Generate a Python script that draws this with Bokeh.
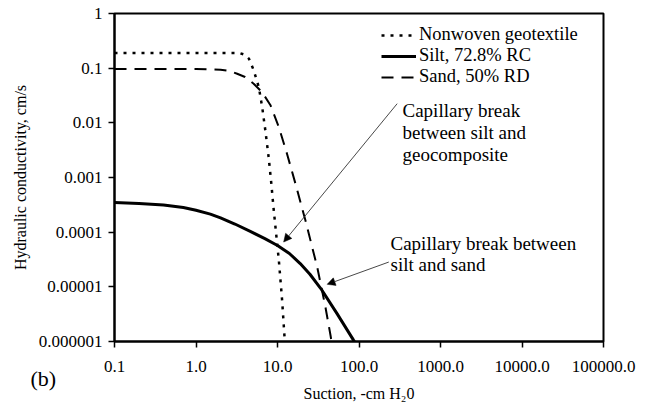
from bokeh.plotting import figure
from bokeh.models import FixedTicker, Legend, LegendItem, Arrow, NormalHead, Label
from bokeh.embed import file_html
from bokeh.resources import INLINE

# ---------------- data ----------------
geo_suction = [0.1, 1.0, 3.0, 3.5, 4.0, 4.45, 5.1, 5.9, 6.5, 7.1, 7.8, 8.4, 9.0, 10.4, 11.4, 12.2, 12.4]
geo_k = [0.19, 0.19, 0.19, 0.187, 0.175, 0.15, 0.092, 0.045, 0.019, 0.0072, 0.0023, 0.00077,
         0.00025, 0.00003, 0.0000056, 0.0000012, 0.000001]

silt_suction = [0.1, 0.2, 0.4, 0.7, 1.0, 1.5, 2.0, 3.0, 4.7, 7.0, 10.0, 14.0, 19.0, 25.0,
                34.0, 54.0, 86.0, 88.0]
silt_k = [0.00035, 0.000335, 0.000313, 0.000282, 0.000251, 0.000214, 0.000182, 0.000141,
          0.000102, 0.000076, 0.000057, 0.0000407, 0.0000266, 0.000017, 0.0000093,
          0.0000032, 0.00000105, 0.000001]

sand_suction = [0.1, 1.0, 2.0, 2.5, 3.2, 4.0, 5.1, 6.5, 8.2, 10.4, 13.1, 16.6, 22.0, 30.7,
                38.7, 44.7, 46.0]
sand_k = [0.097, 0.097, 0.094, 0.09, 0.079, 0.069, 0.052, 0.036, 0.021, 0.0083, 0.0027,
          0.00077, 0.000165, 0.000023, 0.0000043, 0.0000013, 0.000001]

series_labels = ["Nonwoven geotextile", "Silt, 72.8% RC", "Sand, 50% RD"]

x_ticks = [0.1, 1.0, 10.0, 100.0, 1000.0, 10000.0, 100000.0]
x_tick_labels = ["0.1", "1.0", "10.0", "100.0", "1000.0", "10000.0", "100000.0"]
y_ticks = [1.0, 0.1, 0.01, 0.001, 0.0001, 0.00001, 0.000001]
y_tick_labels = ["1", "0.1", "0.01", "0.001", "0.0001", "0.00001", "0.000001"]

# annotation anchor points (data coords): arrow start -> arrow tip
arrow1 = (294.0, 0.0224, 11.9, 0.000066)
arrow2 = (232.0, 0.0000284, 40.7, 0.0000111)

FONT = "Liberation Serif"

p = figure(width=648, height=408, x_axis_type="log", y_axis_type="log",
           x_range=(0.1, 100000.0), y_range=(0.000001, 1.0),
           output_backend="svg", toolbar_location=None,
           min_border_left=114, min_border_right=45, min_border_top=13, min_border_bottom=67)

p.background_fill_color = "white"
p.border_fill_color = "white"
p.xgrid.visible = False
p.ygrid.visible = False
p.outline_line_color = "black"
p.outline_line_width = 2

for ax in (p.xaxis[0], p.yaxis[0]):
    ax.axis_line_width = 2
    ax.axis_line_color = "black"
    ax.major_tick_line_color = "black"
    ax.major_tick_line_width = 1.5
    ax.major_tick_in = 0
    ax.major_tick_out = 6
    ax.minor_tick_line_color = None
    ax.major_label_text_font = FONT
    ax.major_label_text_font_size = "17px"
    ax.major_label_text_color = "black"
    ax.axis_label_text_font = FONT
    ax.axis_label_text_font_size = "16px"
    ax.axis_label_text_font_style = "normal"
    ax.axis_label_text_color = "black"

p.xaxis.ticker = FixedTicker(ticks=x_ticks)
p.xaxis.major_label_overrides = {t: s for t, s in zip(x_ticks, x_tick_labels)}
p.yaxis.ticker = FixedTicker(ticks=y_ticks)
p.yaxis.major_label_overrides = {t: s for t, s in zip(y_ticks, y_tick_labels)}
p.xaxis.major_label_standoff = 13
p.yaxis.major_label_standoff = 6
p.xaxis.axis_label = "Suction, -cm H\u20820"
p.yaxis.axis_label = "Hydraulic conductivity, cm/s"
p.xaxis.axis_label_standoff = 10
p.yaxis.axis_label_standoff = 7

r_geo = p.line(geo_suction, geo_k, line_color="black", line_width=2.5, line_dash="3 6")
r_silt = p.line(silt_suction, silt_k, line_color="black", line_width=3, line_join="round")
r_sand = p.line(sand_suction, sand_k, line_color="black", line_width=2, line_dash="12 8")

legend = Legend(items=[LegendItem(label=series_labels[0], renderers=[r_geo]),
                       LegendItem(label=series_labels[1], renderers=[r_silt]),
                       LegendItem(label=series_labels[2], renderers=[r_sand])],
                location=(267, 254))
legend.label_text_font = FONT
legend.label_text_font_size = "18.5px"
legend.label_text_color = "black"
legend.glyph_width = 35
legend.glyph_height = 20
legend.label_height = 20
legend.spacing = 0
legend.padding = 0
legend.margin = 0
legend.label_standoff = 3
legend.border_line_color = None
legend.background_fill_alpha = 0
p.add_layout(legend)

for (x0, y0, x1, y1) in (arrow1, arrow2):
    p.add_layout(Arrow(x_start=x0, y_start=y0, x_end=x1, y_end=y1,
                       line_color="#333333", line_width=0.9,
                       end=NormalHead(size=8, fill_color="black", line_color="black", line_width=0.5)))

notes = [
    ("Capillary break", 288, 231),
    ("between silt and", 288, 209),
    ("geocomposite", 288, 187),
    ("Capillary break between", 276, 98),
    ("silt and sand", 276, 77),
]
for txt, sx, sy in notes:
    p.add_layout(Label(x=sx, y=sy, x_units="screen", y_units="screen", text=txt,
                       text_font=FONT, text_font_size="19px", text_color="black",
                       text_baseline="alphabetic", text_align="left"))

p.add_layout(Label(x=-573, y=-37, x_units="screen", y_units="screen", text="(b)",
                   text_font=FONT, text_font_size="22px", text_color="black",
                   text_baseline="middle", text_align="left"), "right")

open("out.html", "w").write(file_html(p, INLINE))
